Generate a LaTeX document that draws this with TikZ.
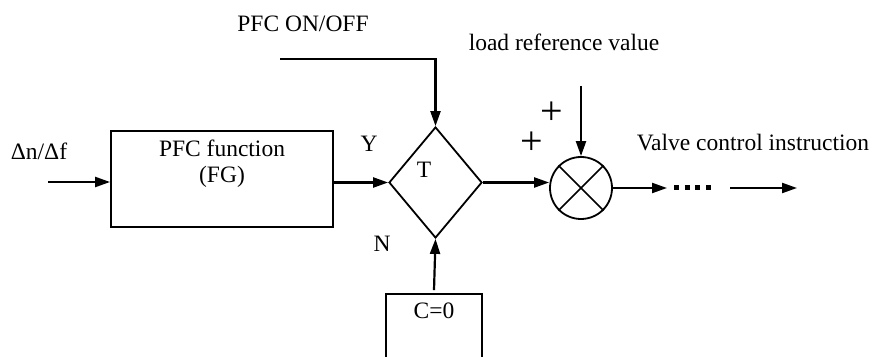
\documentclass[tikz,border=0pt]{standalone}
\usepackage{fontspec}
\setmainfont{Liberation Serif}
\usepackage{tikz}
\usetikzlibrary{arrows.meta,positioning,shapes.geometric}
\tikzset{
  txt/.style={inner sep=0pt,align=center,font=\fontsize{23.5}{26}\selectfont},
  lbl/.style={txt,anchor=base},
  blk/.style={draw,line width=1.8pt,inner sep=0pt},
  pl/.style={inner sep=0pt,font=\fontsize{40}{40}\selectfont},
  ar/.style={-{Triangle[length=15pt,width=10pt]},line width=2.2pt}
}
\begin{document}
\begin{tikzpicture}[x=1pt,y=1pt]
\clip (0,0) rectangle (874,356);
\node[blk,minimum width=222pt,minimum height=96pt] (fg) at (222,177) {};
\node[txt,below=10pt of fg.north] (fgtxt) {PFC function\\(FG)};
\node[blk,diamond,minimum width=93pt,minimum height=111pt] (sw) at (435.5,173.5) {};
\node[blk,minimum width=96pt,minimum height=100pt] (c0) at (434,12) {};
\node[txt,below=10pt of c0.north] (c0txt) {C=0};
\node[blk,circle,minimum size=62pt] (sum) at (581,168) {};
\foreach \a/\b in {north west/south east,north east/south west}{\draw[line width=1.5pt] (sum.\a) -- (sum.\b);}
\node[lbl] (dnf) at (39,196) {Δn/Δf};
\node[lbl] (onofftxt) at (303,324) {PFC ON/OFF};
\node[lbl] (ldtxt) at (564,305) {load reference value};
\node[lbl] (valve) at (753,205) {Valve control instruction};
\node[lbl] (ylbl) at (369,204) {Y};
\node[lbl] (nlbl) at (382,104) {N};
\node[lbl] (tlbl) at (424,178) {T};
\node[pl] (pl1) at (552,243) {+};
\node[pl] (pl2) at (532,213) {+};
\coordinate (in0) at (48,174);
\coordinate (onoff) at (280,297);
\coordinate (ldref) at (581,270);
\coordinate (o1) at (667,168);
\coordinate (d0) at (674,168);
\coordinate (d1) at (712,168);
\coordinate (o2) at (730,168);
\coordinate (o3) at (797,168);
\draw[ar] (in0) -- (in0 -| fg.west);
\draw[ar] (fg.east |- sw.west) -- (sw.west);
\draw[ar] (onoff) -| (sw.north);
\draw[ar] ([yshift=3pt]c0.north) -- (sw.south);
\draw[ar] (sw.east) -- (sw.east -| sum.west);
\draw[ar] (ldref) -- (sum.north);
\draw[ar] (sum.east) -- (o1);
\draw[line width=5pt,dash pattern=on 5pt off 5.7pt] (d0) -- (d1);
\draw[ar] (o2) -- (o3);
\end{tikzpicture}
\end{document}
